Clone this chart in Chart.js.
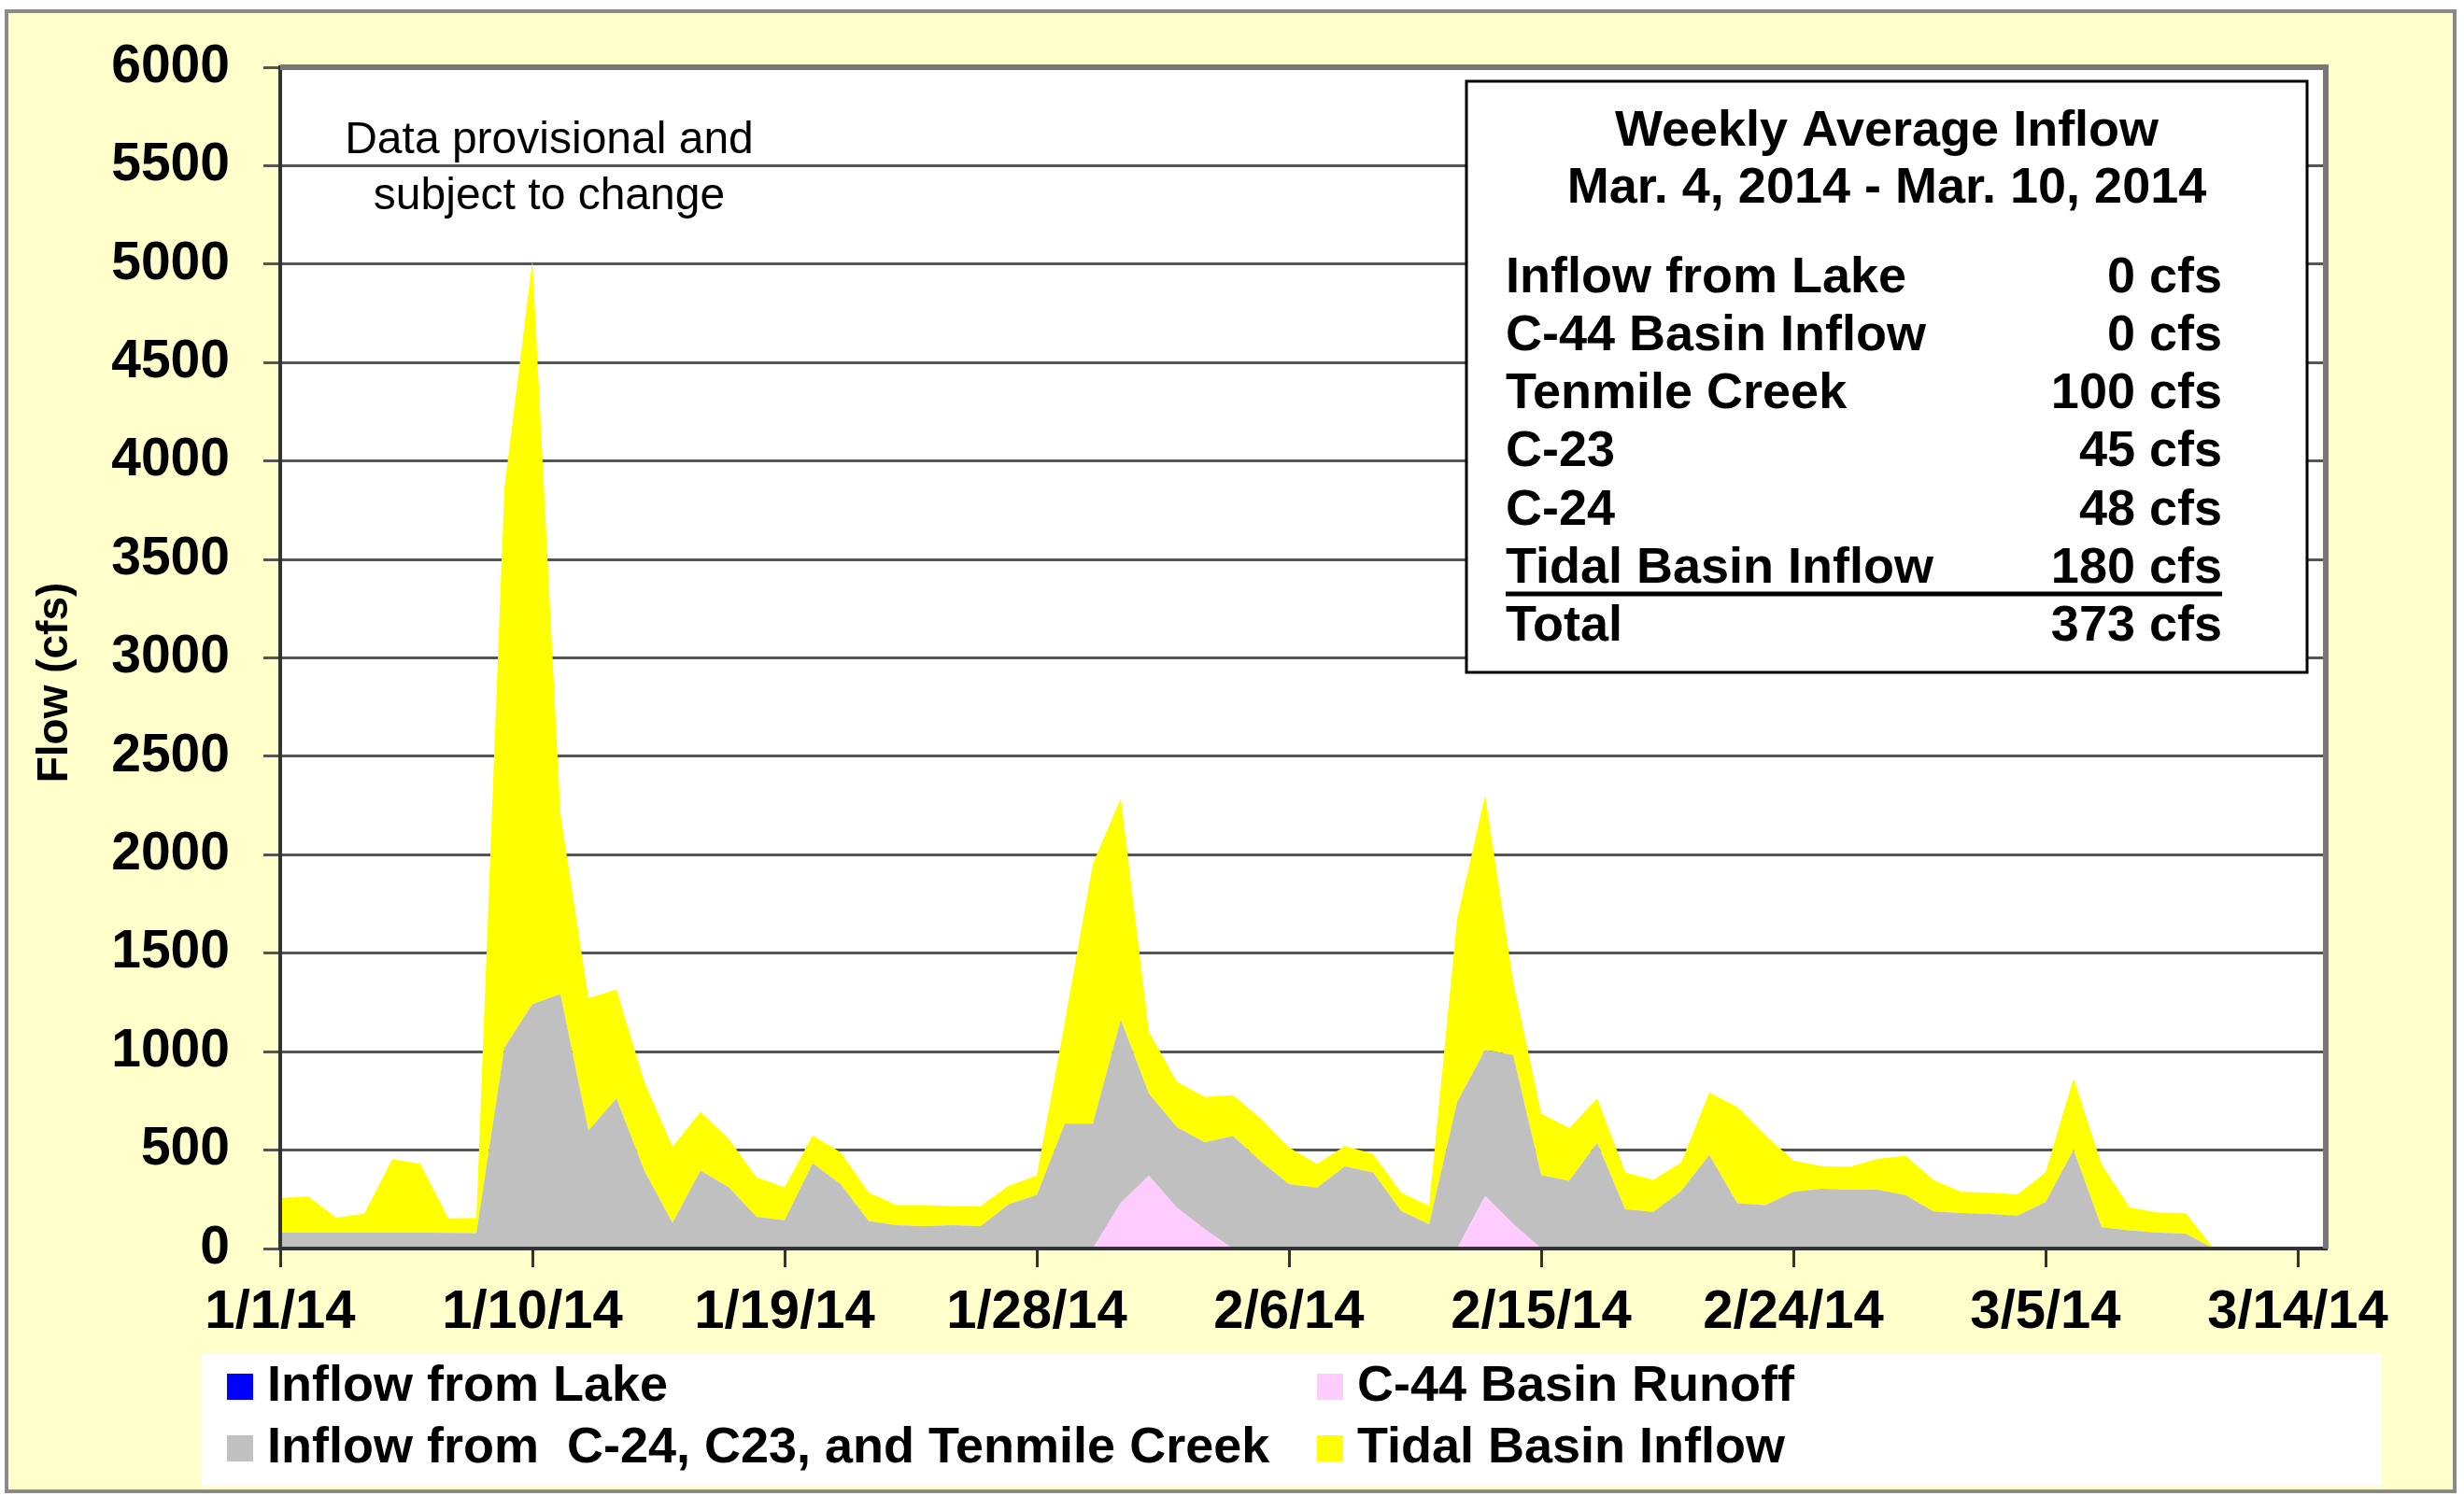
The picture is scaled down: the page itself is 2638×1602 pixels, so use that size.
<!DOCTYPE html>
<html>
<head>
<meta charset="utf-8">
<script src="https://cdn.jsdelivr.net/npm/chart.js"></script>
<style>
  html, body { margin: 0; padding: 0; background: #fff; }
  canvas { display: block; }
</style>
</head>
<body>
<canvas id="flow" width="2638" height="1602"></canvas>
<script>
// daily values, starting 1/1/14 (day 0)
const lakeInflow = [
  0,0,0,0,0,0,0,0,0,0, 0,0,0,0,0,0,0,0,0,0, 0,0,0,0,0,0,0,0,0,0,
  0,0,0,0,0,0,0,0,0,0, 0,0,0,0,0,0,0,0,0,0, 0,0,0,0,0,0,0,0,0,0,
  0,0,0,0,0,0,0,0,0,0
];
const c44Runoff = [
  0,0,0,0,0,0,0,0,0,0, 0,0,0,0,0,0,0,0,0,0, 0,0,0,0,0,0,0,0,0,0,
  233,370,208,97,0,0,0,0,0,0, 0,0,0,267,125,0,0,0,0,0, 0,0,0,0,0,0,0,0,0,0,
  0,0,0,0,0,0,0,0,0,0
];
const basinInflow = [
  82,82,82,82,82,82,80,78,1020,1242, 1292,600,763,394,130,396,312,161,143,433,
  327,140,118,114,118,114,225,271,634,634, 929,417,409,443,571,442,327,310,417,387,
  191,123,744,742,858,373,344,537,199,186, 293,475,230,220,288,304,299,299,272,188,
  180,175,167,236,501,108,92,81,76,0
];
const tidalInflow = [
  174,182,75,95,372,348,73,77,2842,3775, 915,672,552,450,387,299,245,201,168,141,
  162,144,102,106,98,102,94,99,516,1320, 1124,315,230,230,208,217,187,119,103,93,
  93,93,929,1294,375,312,268,225,188,163, 145,317,489,355,159,115,116,156,199,159,
  108,108,108,151,363,319,117,102,104,0
];
const seriesNames = ['Inflow from Lake', 'C-44 Basin Runoff', 'Inflow from  C-24, C23, and Tenmile Creek', 'Tidal Basin Inflow'];
const seriesColors = ['#0000FF', '#FFCCFF', '#C0C0C0', '#FFFF00'];
const tickLabels = ['1/1/14', '1/10/14', '1/19/14', '1/28/14', '2/6/14', '2/15/14', '2/24/14', '3/5/14', '3/14/14'];
const yTicks = [0, 500, 1000, 1500, 2000, 2500, 3000, 3500, 4000, 4500, 5000, 5500, 6000];

// weekly summary box
const summaryTitle = ['Weekly Average Inflow', 'Mar. 4, 2014 - Mar. 10, 2014'];
const summaryNames = ['Inflow from Lake', 'C-44 Basin Inflow', 'Tenmile Creek', 'C-23', 'C-24', 'Tidal Basin Inflow', 'Total'];
const summaryValues = ['0 cfs', '0 cfs', '100 cfs', '45 cfs', '48 cfs', '180 cfs', '373 cfs'];

const FONT = '"Liberation Sans", Arial, sans-serif';
const dayMs = 86400000;
const start = new Date(2014, 0, 1);

function dayOf(label) {
  const p = label.split('/');
  const d = new Date(2000 + +p[2], +p[0] - 1, +p[1]);
  return Math.round((d - start) / dayMs);
}

const toPoints = arr => arr.map((v, i) => ({ x: i, y: v }));
const allSeries = [lakeInflow, c44Runoff, basinInflow, tidalInflow];

const datasets = allSeries.map((arr, i) => ({
  label: seriesNames[i],
  data: toPoints(arr),
  backgroundColor: seriesColors[i],
  borderWidth: 0,
  pointRadius: 0,
  tension: 0,
  fill: i === 0 ? 'origin' : '-1'
}));

const frame = {
  id: 'frame',
  beforeDraw(chart) {
    const ctx = chart.ctx, a = chart.chartArea;
    ctx.save();
    ctx.fillStyle = '#fff';
    ctx.fillRect(0, 0, chart.width, chart.height);
    ctx.fillStyle = '#FFFFCC';
    ctx.fillRect(7, 12, 2621, 1585);
    ctx.strokeStyle = '#8a8a8a';
    ctx.lineWidth = 4;
    ctx.strokeRect(7, 12, 2621, 1585);
    ctx.fillStyle = '#fff';
    ctx.fillRect(a.left, a.top, a.right - a.left, a.bottom - a.top);
    ctx.restore();
  },
  afterDraw(chart) {
    const ctx = chart.ctx, a = chart.chartArea;
    ctx.save();
    // top & right edge of plot
    ctx.strokeStyle = '#777';
    ctx.lineWidth = 6;
    ctx.beginPath();
    ctx.moveTo(a.left, a.top);
    ctx.lineTo(a.right, a.top);
    ctx.lineTo(a.right, a.bottom);
    ctx.stroke();

    // y axis title
    ctx.fillStyle = '#000';
    ctx.font = 'bold 46px ' + FONT;
    ctx.textAlign = 'center';
    ctx.textBaseline = 'middle';
    ctx.save();
    ctx.translate(59, 731);
    ctx.rotate(-Math.PI / 2);
    ctx.fillText('Flow (cfs)', 0, 0);
    ctx.restore();

    // note
    ctx.font = '48px ' + FONT;
    ctx.fillText('Data provisional and', 588, 151);
    ctx.fillText('subject to change', 588, 211);

    // summary box
    ctx.fillStyle = '#fff';
    ctx.fillRect(1570, 87, 900, 633);
    ctx.strokeStyle = '#000';
    ctx.lineWidth = 3;
    ctx.strokeRect(1570, 87, 900, 633);
    ctx.fillStyle = '#000';
    ctx.font = 'bold 54px ' + FONT;
    ctx.textAlign = 'center';
    ctx.fillText(summaryTitle[0], 2020, 141);
    ctx.fillText(summaryTitle[1], 2020, 202);
    summaryNames.forEach((n, i) => {
      const y = 298 + i * 62.2;
      ctx.textAlign = 'left';
      ctx.fillText(n, 1612, y);
      ctx.textAlign = 'right';
      ctx.fillText(summaryValues[i], 2379, y);
    });
    ctx.lineWidth = 5;
    ctx.beginPath();
    ctx.moveTo(1612, 636);
    ctx.lineTo(2379, 636);
    ctx.stroke();

    // legend
    ctx.fillStyle = '#fff';
    ctx.fillRect(215, 1450, 2334, 141);
    const colX = [243, 1410];
    const rowY = [1485, 1551];
    chart.data.datasets.forEach((ds, i) => {
      const x = colX[i % 2], y = rowY[Math.floor(i / 2)];
      ctx.fillStyle = ds.backgroundColor;
      ctx.fillRect(x, y - 14, 28, 28);
      ctx.fillStyle = '#000';
      ctx.font = 'bold 54px ' + FONT;
      ctx.textAlign = 'left';
      ctx.fillText(ds.label, x + 43, y);
    });
    ctx.restore();
  }
};

new Chart(document.getElementById('flow'), {
  type: 'line',
  data: { datasets: datasets },
  plugins: [frame],
  options: {
    responsive: false,
    devicePixelRatio: 1,
    animation: false,
    layout: { padding: { left: 0, top: 72, right: 148, bottom: 0 } },
    plugins: { legend: { display: false }, tooltip: { enabled: false } },
    scales: {
      x: {
        type: 'linear',
        min: 0,
        max: 73,
        afterBuildTicks: s => { s.ticks = tickLabels.map(l => ({ value: dayOf(l) })); },
        afterFit: s => { s.height = 265; },
        grid: { drawOnChartArea: false, tickLength: 20, color: '#333', lineWidth: 3 },
        border: { color: '#333', width: 4, z: 1 },
        ticks: {
          autoSkip: false,
          maxRotation: 0,
          padding: 14,
          color: '#000',
          font: { family: FONT, size: 58, weight: 'bold' },
          callback: v => {
            const d = new Date(start.getTime() + v * dayMs);
            return (d.getMonth() + 1) + '/' + d.getDate() + '/14';
          }
        }
      },
      y: {
        stacked: true,
        min: 0,
        max: 6000,
        afterBuildTicks: s => { s.ticks = yTicks.map(v => ({ value: v })); },
        afterFit: s => { s.width = 300; },
        grid: { color: '#555', lineWidth: 3, tickLength: 18 },
        border: { color: '#333', width: 4, z: 1 },
        ticks: {
          padding: 36,
          color: '#000',
          font: { family: FONT, size: 57, weight: 'bold' },
          callback: v => String(v)
        }
      }
    }
  }
});
</script>
</body>
</html>
